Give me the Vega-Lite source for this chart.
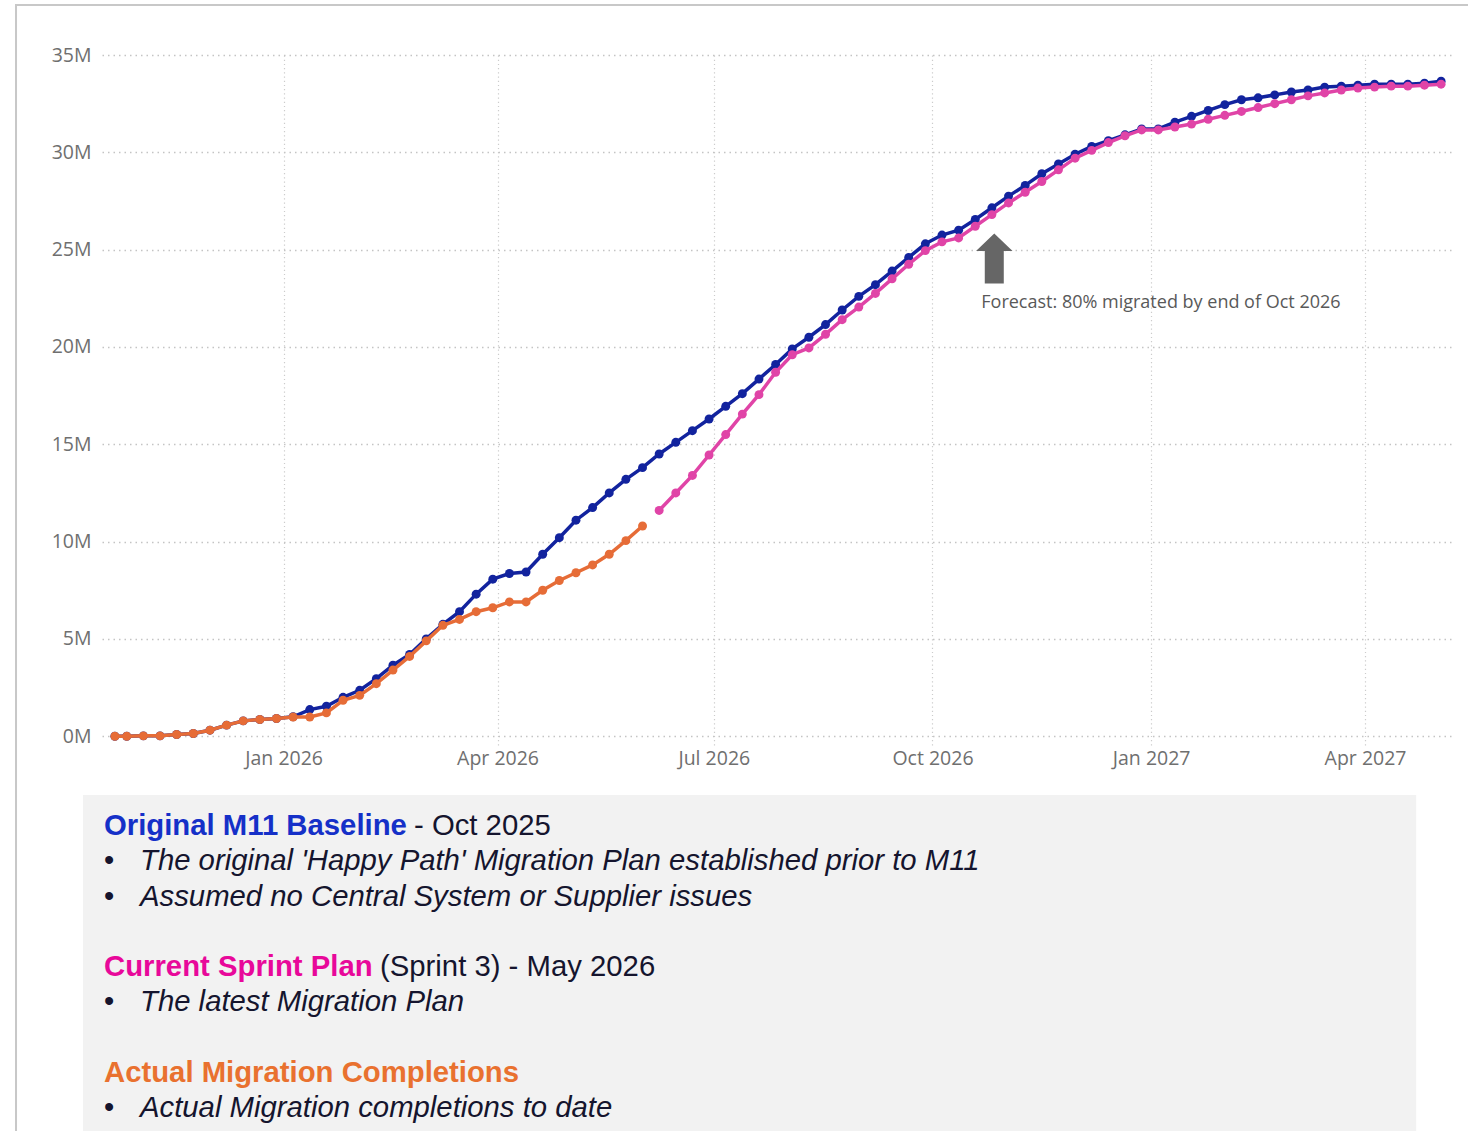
{
  "$schema": "https://vega.github.io/schema/vega-lite/v6.json",
  "width": 1350,
  "height": 690,
  "autosize": {"type": "none"},
  "padding": {"left": 102, "top": 55, "right": 16, "bottom": 386},
  "background": "white",
  "config": {"view": {"stroke": null}, "font": "Open Sans"},
  "datasets": {
    "migrations": [
      {"date": "2025-10-22", "series": "Original M11 Baseline", "millions": 0},
      {"date": "2025-10-27", "series": "Original M11 Baseline", "millions": 0},
      {"date": "2025-11-03", "series": "Original M11 Baseline", "millions": 0.02},
      {"date": "2025-11-10", "series": "Original M11 Baseline", "millions": 0.02},
      {"date": "2025-11-17", "series": "Original M11 Baseline", "millions": 0.09},
      {"date": "2025-11-24", "series": "Original M11 Baseline", "millions": 0.14},
      {"date": "2025-12-01", "series": "Original M11 Baseline", "millions": 0.31},
      {"date": "2025-12-08", "series": "Original M11 Baseline", "millions": 0.57},
      {"date": "2025-12-15", "series": "Original M11 Baseline", "millions": 0.79},
      {"date": "2025-12-22", "series": "Original M11 Baseline", "millions": 0.86},
      {"date": "2025-12-29", "series": "Original M11 Baseline", "millions": 0.91},
      {"date": "2026-01-05", "series": "Original M11 Baseline", "millions": 1.0},
      {"date": "2026-01-12", "series": "Original M11 Baseline", "millions": 1.37},
      {"date": "2026-01-19", "series": "Original M11 Baseline", "millions": 1.54},
      {"date": "2026-01-26", "series": "Original M11 Baseline", "millions": 2.0},
      {"date": "2026-02-02", "series": "Original M11 Baseline", "millions": 2.36},
      {"date": "2026-02-09", "series": "Original M11 Baseline", "millions": 2.96},
      {"date": "2026-02-16", "series": "Original M11 Baseline", "millions": 3.65},
      {"date": "2026-02-23", "series": "Original M11 Baseline", "millions": 4.2},
      {"date": "2026-03-02", "series": "Original M11 Baseline", "millions": 5.0},
      {"date": "2026-03-09", "series": "Original M11 Baseline", "millions": 5.75},
      {"date": "2026-03-16", "series": "Original M11 Baseline", "millions": 6.4},
      {"date": "2026-03-23", "series": "Original M11 Baseline", "millions": 7.3},
      {"date": "2026-03-30", "series": "Original M11 Baseline", "millions": 8.07},
      {"date": "2026-04-06", "series": "Original M11 Baseline", "millions": 8.36},
      {"date": "2026-04-13", "series": "Original M11 Baseline", "millions": 8.44},
      {"date": "2026-04-20", "series": "Original M11 Baseline", "millions": 9.35},
      {"date": "2026-04-27", "series": "Original M11 Baseline", "millions": 10.2},
      {"date": "2026-05-04", "series": "Original M11 Baseline", "millions": 11.1},
      {"date": "2026-05-11", "series": "Original M11 Baseline", "millions": 11.75},
      {"date": "2026-05-18", "series": "Original M11 Baseline", "millions": 12.5},
      {"date": "2026-05-25", "series": "Original M11 Baseline", "millions": 13.2},
      {"date": "2026-06-01", "series": "Original M11 Baseline", "millions": 13.8},
      {"date": "2026-06-08", "series": "Original M11 Baseline", "millions": 14.5},
      {"date": "2026-06-15", "series": "Original M11 Baseline", "millions": 15.1},
      {"date": "2026-06-22", "series": "Original M11 Baseline", "millions": 15.7},
      {"date": "2026-06-29", "series": "Original M11 Baseline", "millions": 16.3},
      {"date": "2026-07-06", "series": "Original M11 Baseline", "millions": 16.95},
      {"date": "2026-07-13", "series": "Original M11 Baseline", "millions": 17.6},
      {"date": "2026-07-20", "series": "Original M11 Baseline", "millions": 18.35},
      {"date": "2026-07-27", "series": "Original M11 Baseline", "millions": 19.1},
      {"date": "2026-08-03", "series": "Original M11 Baseline", "millions": 19.9},
      {"date": "2026-08-10", "series": "Original M11 Baseline", "millions": 20.5},
      {"date": "2026-08-17", "series": "Original M11 Baseline", "millions": 21.15},
      {"date": "2026-08-24", "series": "Original M11 Baseline", "millions": 21.9},
      {"date": "2026-08-31", "series": "Original M11 Baseline", "millions": 22.6},
      {"date": "2026-09-07", "series": "Original M11 Baseline", "millions": 23.2},
      {"date": "2026-09-14", "series": "Original M11 Baseline", "millions": 23.9},
      {"date": "2026-09-21", "series": "Original M11 Baseline", "millions": 24.6},
      {"date": "2026-09-28", "series": "Original M11 Baseline", "millions": 25.3},
      {"date": "2026-10-05", "series": "Original M11 Baseline", "millions": 25.75},
      {"date": "2026-10-12", "series": "Original M11 Baseline", "millions": 26.0},
      {"date": "2026-10-19", "series": "Original M11 Baseline", "millions": 26.55},
      {"date": "2026-10-26", "series": "Original M11 Baseline", "millions": 27.15},
      {"date": "2026-11-02", "series": "Original M11 Baseline", "millions": 27.75},
      {"date": "2026-11-09", "series": "Original M11 Baseline", "millions": 28.3},
      {"date": "2026-11-16", "series": "Original M11 Baseline", "millions": 28.9},
      {"date": "2026-11-23", "series": "Original M11 Baseline", "millions": 29.4},
      {"date": "2026-11-30", "series": "Original M11 Baseline", "millions": 29.9},
      {"date": "2026-12-07", "series": "Original M11 Baseline", "millions": 30.3},
      {"date": "2026-12-14", "series": "Original M11 Baseline", "millions": 30.6},
      {"date": "2026-12-21", "series": "Original M11 Baseline", "millions": 30.9},
      {"date": "2026-12-28", "series": "Original M11 Baseline", "millions": 31.2},
      {"date": "2027-01-04", "series": "Original M11 Baseline", "millions": 31.2},
      {"date": "2027-01-11", "series": "Original M11 Baseline", "millions": 31.55},
      {"date": "2027-01-18", "series": "Original M11 Baseline", "millions": 31.85},
      {"date": "2027-01-25", "series": "Original M11 Baseline", "millions": 32.15},
      {"date": "2027-02-01", "series": "Original M11 Baseline", "millions": 32.45},
      {"date": "2027-02-08", "series": "Original M11 Baseline", "millions": 32.7},
      {"date": "2027-02-15", "series": "Original M11 Baseline", "millions": 32.8},
      {"date": "2027-02-22", "series": "Original M11 Baseline", "millions": 32.95},
      {"date": "2027-03-01", "series": "Original M11 Baseline", "millions": 33.1},
      {"date": "2027-03-08", "series": "Original M11 Baseline", "millions": 33.2},
      {"date": "2027-03-15", "series": "Original M11 Baseline", "millions": 33.35},
      {"date": "2027-03-22", "series": "Original M11 Baseline", "millions": 33.4},
      {"date": "2027-03-29", "series": "Original M11 Baseline", "millions": 33.45},
      {"date": "2027-04-05", "series": "Original M11 Baseline", "millions": 33.5},
      {"date": "2027-04-12", "series": "Original M11 Baseline", "millions": 33.5},
      {"date": "2027-04-19", "series": "Original M11 Baseline", "millions": 33.5},
      {"date": "2027-04-26", "series": "Original M11 Baseline", "millions": 33.55},
      {"date": "2027-05-03", "series": "Original M11 Baseline", "millions": 33.65},

      {"date": "2026-06-08", "series": "Current Sprint Plan", "millions": 11.6},
      {"date": "2026-06-15", "series": "Current Sprint Plan", "millions": 12.5},
      {"date": "2026-06-22", "series": "Current Sprint Plan", "millions": 13.4},
      {"date": "2026-06-29", "series": "Current Sprint Plan", "millions": 14.45},
      {"date": "2026-07-06", "series": "Current Sprint Plan", "millions": 15.5},
      {"date": "2026-07-13", "series": "Current Sprint Plan", "millions": 16.55},
      {"date": "2026-07-20", "series": "Current Sprint Plan", "millions": 17.55},
      {"date": "2026-07-27", "series": "Current Sprint Plan", "millions": 18.7},
      {"date": "2026-08-03", "series": "Current Sprint Plan", "millions": 19.6},
      {"date": "2026-08-10", "series": "Current Sprint Plan", "millions": 19.95},
      {"date": "2026-08-17", "series": "Current Sprint Plan", "millions": 20.65},
      {"date": "2026-08-24", "series": "Current Sprint Plan", "millions": 21.4},
      {"date": "2026-08-31", "series": "Current Sprint Plan", "millions": 22.05},
      {"date": "2026-09-07", "series": "Current Sprint Plan", "millions": 22.75},
      {"date": "2026-09-14", "series": "Current Sprint Plan", "millions": 23.5},
      {"date": "2026-09-21", "series": "Current Sprint Plan", "millions": 24.25},
      {"date": "2026-09-28", "series": "Current Sprint Plan", "millions": 24.95},
      {"date": "2026-10-05", "series": "Current Sprint Plan", "millions": 25.4},
      {"date": "2026-10-12", "series": "Current Sprint Plan", "millions": 25.6},
      {"date": "2026-10-19", "series": "Current Sprint Plan", "millions": 26.2},
      {"date": "2026-10-26", "series": "Current Sprint Plan", "millions": 26.8},
      {"date": "2026-11-02", "series": "Current Sprint Plan", "millions": 27.4},
      {"date": "2026-11-09", "series": "Current Sprint Plan", "millions": 27.95},
      {"date": "2026-11-16", "series": "Current Sprint Plan", "millions": 28.5},
      {"date": "2026-11-23", "series": "Current Sprint Plan", "millions": 29.1},
      {"date": "2026-11-30", "series": "Current Sprint Plan", "millions": 29.7},
      {"date": "2026-12-07", "series": "Current Sprint Plan", "millions": 30.1},
      {"date": "2026-12-14", "series": "Current Sprint Plan", "millions": 30.5},
      {"date": "2026-12-21", "series": "Current Sprint Plan", "millions": 30.85},
      {"date": "2026-12-28", "series": "Current Sprint Plan", "millions": 31.15},
      {"date": "2027-01-04", "series": "Current Sprint Plan", "millions": 31.15},
      {"date": "2027-01-11", "series": "Current Sprint Plan", "millions": 31.3},
      {"date": "2027-01-18", "series": "Current Sprint Plan", "millions": 31.45},
      {"date": "2027-01-25", "series": "Current Sprint Plan", "millions": 31.7},
      {"date": "2027-02-01", "series": "Current Sprint Plan", "millions": 31.9},
      {"date": "2027-02-08", "series": "Current Sprint Plan", "millions": 32.1},
      {"date": "2027-02-15", "series": "Current Sprint Plan", "millions": 32.3},
      {"date": "2027-02-22", "series": "Current Sprint Plan", "millions": 32.5},
      {"date": "2027-03-01", "series": "Current Sprint Plan", "millions": 32.7},
      {"date": "2027-03-08", "series": "Current Sprint Plan", "millions": 32.9},
      {"date": "2027-03-15", "series": "Current Sprint Plan", "millions": 33.05},
      {"date": "2027-03-22", "series": "Current Sprint Plan", "millions": 33.2},
      {"date": "2027-03-29", "series": "Current Sprint Plan", "millions": 33.3},
      {"date": "2027-04-05", "series": "Current Sprint Plan", "millions": 33.35},
      {"date": "2027-04-12", "series": "Current Sprint Plan", "millions": 33.4},
      {"date": "2027-04-19", "series": "Current Sprint Plan", "millions": 33.4},
      {"date": "2027-04-26", "series": "Current Sprint Plan", "millions": 33.45},
      {"date": "2027-05-03", "series": "Current Sprint Plan", "millions": 33.5},

      {"date": "2025-10-22", "series": "Actual Migration Completions", "millions": 0},
      {"date": "2025-10-27", "series": "Actual Migration Completions", "millions": 0},
      {"date": "2025-11-03", "series": "Actual Migration Completions", "millions": 0.02},
      {"date": "2025-11-10", "series": "Actual Migration Completions", "millions": 0.02},
      {"date": "2025-11-17", "series": "Actual Migration Completions", "millions": 0.09},
      {"date": "2025-11-24", "series": "Actual Migration Completions", "millions": 0.14},
      {"date": "2025-12-01", "series": "Actual Migration Completions", "millions": 0.31},
      {"date": "2025-12-08", "series": "Actual Migration Completions", "millions": 0.57},
      {"date": "2025-12-15", "series": "Actual Migration Completions", "millions": 0.79},
      {"date": "2025-12-22", "series": "Actual Migration Completions", "millions": 0.86},
      {"date": "2025-12-29", "series": "Actual Migration Completions", "millions": 0.91},
      {"date": "2026-01-05", "series": "Actual Migration Completions", "millions": 0.99},
      {"date": "2026-01-12", "series": "Actual Migration Completions", "millions": 0.99},
      {"date": "2026-01-19", "series": "Actual Migration Completions", "millions": 1.2},
      {"date": "2026-01-26", "series": "Actual Migration Completions", "millions": 1.85},
      {"date": "2026-02-02", "series": "Actual Migration Completions", "millions": 2.1},
      {"date": "2026-02-09", "series": "Actual Migration Completions", "millions": 2.7},
      {"date": "2026-02-16", "series": "Actual Migration Completions", "millions": 3.4},
      {"date": "2026-02-23", "series": "Actual Migration Completions", "millions": 4.1},
      {"date": "2026-03-02", "series": "Actual Migration Completions", "millions": 4.9},
      {"date": "2026-03-09", "series": "Actual Migration Completions", "millions": 5.7},
      {"date": "2026-03-16", "series": "Actual Migration Completions", "millions": 6.0},
      {"date": "2026-03-23", "series": "Actual Migration Completions", "millions": 6.4},
      {"date": "2026-03-30", "series": "Actual Migration Completions", "millions": 6.6},
      {"date": "2026-04-06", "series": "Actual Migration Completions", "millions": 6.9},
      {"date": "2026-04-13", "series": "Actual Migration Completions", "millions": 6.9},
      {"date": "2026-04-20", "series": "Actual Migration Completions", "millions": 7.5},
      {"date": "2026-04-27", "series": "Actual Migration Completions", "millions": 8.0},
      {"date": "2026-05-04", "series": "Actual Migration Completions", "millions": 8.4},
      {"date": "2026-05-11", "series": "Actual Migration Completions", "millions": 8.8},
      {"date": "2026-05-18", "series": "Actual Migration Completions", "millions": 9.35},
      {"date": "2026-05-25", "series": "Actual Migration Completions", "millions": 10.05},
      {"date": "2026-06-01", "series": "Actual Migration Completions", "millions": 10.8}
    ],
    "annotation": [
      {"date": "2026-10-27", "millions": 24.55, "note": "Forecast: 80% migrated by end of Oct 2026"}
    ],
    "notes": [
      {"line": 0, "indent": 0, "part": "heading", "text": "Original M11 Baseline"},
      {"line": 0, "indent": 0, "part": "suffix", "text": "- Oct 2025"},
      {"line": 1, "indent": 1, "part": "bullet", "text": "The original 'Happy Path' Migration Plan established prior to M11"},
      {"line": 2, "indent": 1, "part": "bullet", "text": "Assumed no Central System or Supplier issues"},
      {"line": 4, "indent": 0, "part": "heading", "text": "Current Sprint Plan"},
      {"line": 4, "indent": 0, "part": "suffix", "text": "(Sprint 3) - May 2026"},
      {"line": 5, "indent": 1, "part": "bullet", "text": "The latest Migration Plan"},
      {"line": 7, "indent": 0, "part": "heading", "text": "Actual Migration Completions"},
      {"line": 8, "indent": 1, "part": "bullet", "text": "Actual Migration completions to date"}
    ],
    "frame": [{"element": "panel"}]
  },
  "layer": [
    {
      "layer": [
        {
          "data": {"name": "frame"},
          "mark": {"type": "rect", "fill": "white", "fillOpacity": 0, "stroke": "#c8c8c8", "strokeWidth": 2},
          "encoding": {
            "x": {"datum": -2.444, "type": "quantitative", "scale": {"domain": [0, 1], "range": [2, 38], "zero": false, "nice": false}, "axis": null},
            "x2": {"datum": 60},
            "y": {"datum": -23.26, "type": "quantitative", "scale": {"domain": [0, 8], "range": [770, 1052], "zero": false, "nice": false}, "axis": null},
            "y2": {"datum": 30}
          }
        },
        {
          "data": {"name": "frame"},
          "mark": {"type": "rect", "fill": "#f2f2f2"},
          "encoding": {
            "x": {"datum": -0.583, "type": "quantitative", "scale": {"domain": [0, 1], "range": [2, 38], "zero": false, "nice": false}, "axis": null},
            "x2": {"datum": 36.45},
            "y": {"datum": -0.851, "type": "quantitative", "scale": {"domain": [0, 8], "range": [770, 1052], "zero": false, "nice": false}, "axis": null},
            "y2": {"datum": 9.5}
          }
        },
        {
          "data": {"name": "notes"},
          "transform": [{"filter": "datum.part == 'heading'"}],
          "mark": {"type": "text", "align": "left", "baseline": "middle", "dy": 1, "font": "Liberation Sans", "fontSize": 29.3, "fontWeight": "bold"},
          "encoding": {
            "x": {"field": "indent", "type": "quantitative", "scale": {"domain": [0, 1], "range": [2, 38], "zero": false, "nice": false}, "axis": null},
            "y": {"field": "line", "type": "quantitative", "scale": {"domain": [0, 8], "range": [770, 1052], "zero": false, "nice": false}, "axis": null},
            "text": {"field": "text"},
            "color": {"field": "text", "type": "nominal", "scale": {"domain": ["Original M11 Baseline", "Current Sprint Plan", "Actual Migration Completions"], "range": ["#1530c8", "#e8089a", "#e9712f"]}, "legend": null}
          }
        },
        {
          "data": {"name": "notes"},
          "transform": [{"filter": "datum.part == 'suffix' && datum.line == 0"}],
          "mark": {"type": "text", "align": "left", "baseline": "middle", "dy": 1, "dx": 310, "font": "Liberation Sans", "fontSize": 29.3, "color": "#15152e"},
          "encoding": {
            "x": {"field": "indent", "type": "quantitative", "scale": {"domain": [0, 1], "range": [2, 38], "zero": false, "nice": false}, "axis": null},
            "y": {"field": "line", "type": "quantitative", "scale": {"domain": [0, 8], "range": [770, 1052], "zero": false, "nice": false}, "axis": null},
            "text": {"field": "text"}
          }
        },
        {
          "data": {"name": "notes"},
          "transform": [{"filter": "datum.part == 'suffix' && datum.line == 4"}],
          "mark": {"type": "text", "align": "left", "baseline": "middle", "dy": 1, "dx": 276, "font": "Liberation Sans", "fontSize": 29.3, "color": "#15152e"},
          "encoding": {
            "x": {"field": "indent", "type": "quantitative", "scale": {"domain": [0, 1], "range": [2, 38], "zero": false, "nice": false}, "axis": null},
            "y": {"field": "line", "type": "quantitative", "scale": {"domain": [0, 8], "range": [770, 1052], "zero": false, "nice": false}, "axis": null},
            "text": {"field": "text"}
          }
        },
        {
          "data": {"name": "notes"},
          "transform": [{"filter": "datum.part == 'bullet'"}],
          "mark": {"type": "text", "align": "left", "baseline": "middle", "dy": 1, "font": "Liberation Sans", "fontSize": 29.3, "color": "#15152e", "text": "•"},
          "encoding": {
            "x": {"datum": 0, "type": "quantitative", "scale": {"domain": [0, 1], "range": [2, 38], "zero": false, "nice": false}, "axis": null},
            "y": {"field": "line", "type": "quantitative", "scale": {"domain": [0, 8], "range": [770, 1052], "zero": false, "nice": false}, "axis": null}
          }
        },
        {
          "data": {"name": "notes"},
          "transform": [{"filter": "datum.part == 'bullet'"}],
          "mark": {"type": "text", "align": "left", "baseline": "middle", "dy": 1, "font": "Liberation Sans", "fontSize": 29.3, "fontStyle": "italic", "color": "#15152e"},
          "encoding": {
            "x": {"field": "indent", "type": "quantitative", "scale": {"domain": [0, 1], "range": [2, 38], "zero": false, "nice": false}, "axis": null},
            "y": {"field": "line", "type": "quantitative", "scale": {"domain": [0, 8], "range": [770, 1052], "zero": false, "nice": false}, "axis": null},
            "text": {"field": "text"}
          }
        }
      ]
    },
    {
      "encoding": {
        "x": {
          "field": "date", "type": "temporal",
          "scale": {"type": "utc", "domain": [{"year": 2025, "month": 10, "date": 16, "hours": 14, "utc": true}, {"year": 2027, "month": 5, "date": 7, "hours": 14, "utc": true}]},
          "axis": {
            "title": null, "domain": false, "ticks": false, "format": "%b %Y", "grid": true,
            "values": [{"year": 2026, "month": 1, "date": 1, "utc": true}, {"year": 2026, "month": 4, "date": 1, "utc": true}, {"year": 2026, "month": 7, "date": 1, "utc": true}, {"year": 2026, "month": 10, "date": 1, "utc": true}, {"year": 2027, "month": 1, "date": 1, "utc": true}, {"year": 2027, "month": 4, "date": 1, "utc": true}],
            "labelFont": "Open Sans", "labelFontSize": 19.5, "labelColor": "#6f6f6f", "labelPadding": 4,
            "gridColor": "#cccccc", "gridDash": [1.2, 3], "gridWidth": 1.2
          }
        },
        "y": {
          "field": "millions", "type": "quantitative",
          "scale": {"domain": [-0.45, 35], "nice": false, "zero": false},
          "axis": {
            "title": null, "domain": false, "ticks": false, "grid": true,
            "values": [0, 5, 10, 15, 20, 25, 30, 35],
            "labelExpr": "datum.value + 'M'",
            "labelFont": "Open Sans", "labelFontSize": 19.5, "labelColor": "#6f6f6f", "labelPadding": 11,
            "gridColor": "#c4c4c4", "gridDash": [1.5, 4], "gridWidth": 1.5
          }
        }
      },
      "layer": [
        {
          "data": {"name": "migrations"},
          "transform": [{"filter": "datum.series == 'Original M11 Baseline'"}],
          "mark": {"type": "line", "strokeWidth": 3.5, "point": {"filled": true, "size": 80, "opacity": 1}},
          "encoding": {
            "color": {"field": "series", "type": "nominal", "scale": {"domain": ["Original M11 Baseline", "Current Sprint Plan", "Actual Migration Completions"], "range": ["#12239e", "#e044a7", "#e66c37"]}, "legend": null}
          }
        },
        {
          "data": {"name": "migrations"},
          "transform": [{"filter": "datum.series == 'Current Sprint Plan'"}],
          "mark": {"type": "line", "strokeWidth": 3.5, "point": {"filled": true, "size": 80, "opacity": 1}},
          "encoding": {
            "color": {"field": "series", "type": "nominal", "scale": {"domain": ["Original M11 Baseline", "Current Sprint Plan", "Actual Migration Completions"], "range": ["#12239e", "#e044a7", "#e66c37"]}, "legend": null}
          }
        },
        {
          "data": {"name": "migrations"},
          "transform": [{"filter": "datum.series == 'Actual Migration Completions'"}],
          "mark": {"type": "line", "strokeWidth": 3.5, "point": {"filled": true, "size": 80, "opacity": 1}},
          "encoding": {
            "color": {"field": "series", "type": "nominal", "scale": {"domain": ["Original M11 Baseline", "Current Sprint Plan", "Actual Migration Completions"], "range": ["#12239e", "#e044a7", "#e66c37"]}, "legend": null}
          }
        },
        {
          "data": {"name": "annotation"},
          "mark": {"type": "point", "shape": "M0,-1L0.73,-0.3L0.38,-0.3L0.38,1L-0.38,1L-0.38,-0.3L-0.73,-0.3Z", "size": 2500, "filled": true, "color": "#666666", "opacity": 1}
        },
        {
          "data": {"name": "annotation"},
          "mark": {"type": "text", "align": "left", "baseline": "middle", "dx": -13, "dy": 45, "font": "Open Sans", "fontSize": 18, "color": "#595959"},
          "encoding": {"text": {"field": "note"}}
        }
      ]
    }
  ],
  "resolve": {"scale": {"x": "independent", "y": "independent", "color": "independent"}}
}
